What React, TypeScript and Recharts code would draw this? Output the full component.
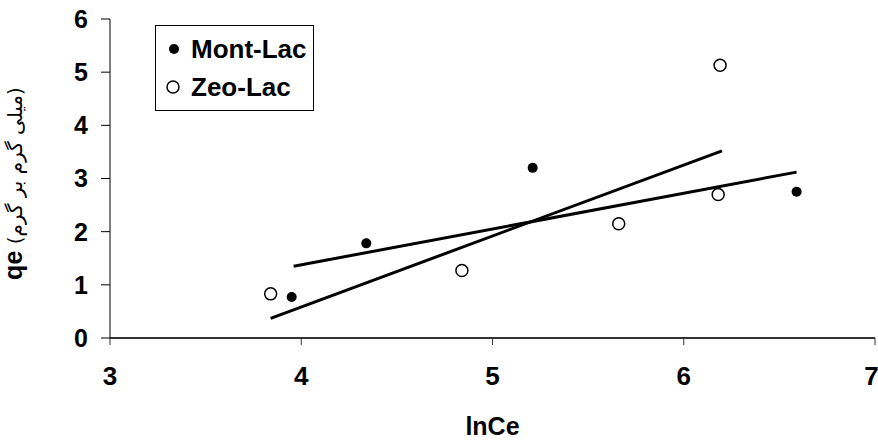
import { Scatter, ScatterChart, XAxis, YAxis } from 'recharts';

const montX = [3.95, 4.34, 5.21, 6.59];
const montY = [0.77, 1.78, 3.2, 2.75];
const zeoX = [3.84, 4.84, 5.66, 6.18, 6.19];
const zeoY = [0.83, 1.27, 2.15, 2.7, 5.13];
// trend line end points
const montFitX = [3.96, 6.59];
const montFitY = [1.35, 3.12];
const zeoFitX = [3.84, 6.2];
const zeoFitY = [0.37, 3.52];

const xTicks = [3, 4, 5, 6, 7];
const yTicks = [0, 1, 2, 3, 4, 5, 6];
const seriesNames = ['Mont-Lac', 'Zeo-Lac'];

const toPoints = (xs: number[], ys: number[]) => xs.map((x, i) => ({ x, y: ys[i] }));

const font = '"Liberation Sans", Arial, sans-serif';

const FilledDot = (p: any) => <circle cx={p.cx} cy={p.cy} r={5} fill="#000" />;
const OpenDot = (p: any) => <circle cx={p.cx} cy={p.cy} r={6} fill="#fff" stroke="#000" strokeWidth={1.5} />;
const NoDot = () => <g />;

const LegendBox = () => (
  <div
    style={{
      position: 'absolute',
      left: 155,
      top: 25,
      width: 159,
      height: 86,
      boxSizing: 'border-box',
      border: '1.5px solid #000',
      background: '#fff',
      fontFamily: font,
      fontWeight: 700,
      fontSize: 26,
      color: '#000',
      paddingTop: 7,
    }}
  >
    <div style={{ display: 'flex', alignItems: 'center', height: 32 }}>
      <svg width={35} height={20}>
        <circle cx={18} cy={10} r={5} fill="#000" />
      </svg>
      <span>{seriesNames[0]}</span>
    </div>
    <div style={{ display: 'flex', alignItems: 'center', height: 36, marginTop: 4 }}>
      <svg width={35} height={20}>
        <circle cx={17} cy={10} r={6} fill="#fff" stroke="#000" strokeWidth={1.5} />
      </svg>
      <span>{seriesNames[1]}</span>
    </div>
  </div>
);

const YTitle = (p: any) => {
  const vb = p.viewBox;
  const cx = vb.x + 22;
  const cy = vb.y + vb.height / 2 + 5;
  return (
    <text x={cx} y={cy} transform={`rotate(-90 ${cx} ${cy})`} textAnchor="middle" fill="#000">
      <tspan fontFamily={font} fontWeight={700} fontSize={25}>qe</tspan>
      <tspan fontFamily='"DejaVu Sans", sans-serif' fontSize={20}> (میلی گرم بر گرم)</tspan>
    </text>
  );
};

export default function App() {
  return (
    <div style={{ position: 'absolute', left: 0, top: 0, width: 878, height: 443, background: '#fff' }}>
      <ScatterChart width={878} height={443} margin={{ top: 19, right: 3, left: 0, bottom: 0 }}>
        <XAxis
          type="number"
          dataKey="x"
          domain={[3, 7]}
          ticks={xTicks}
          height={105}
          tickSize={7}
          tickMargin={22}
          stroke="#333"
          axisLine={{ stroke: '#333', strokeWidth: 2 }}
          tick={{ fill: '#000', fontSize: 26, fontWeight: 700, fontFamily: font }}
          label={{ value: 'lnCe', position: 'insideBottom', offset: 8, fill: '#000', fontSize: 25, fontWeight: 700, fontFamily: font }}
        />
        <YAxis
          type="number"
          dataKey="y"
          domain={[0, 6]}
          ticks={yTicks}
          width={110}
          tickSize={9}
          tickMargin={13}
          stroke="#000"
          tick={{ fill: '#000', fontSize: 25, fontWeight: 700, fontFamily: font }}
          label={{ content: YTitle }}
        />
        <Scatter
          name="montFit"
          data={toPoints(montFitX, montFitY)}
          line={{ stroke: '#000', strokeWidth: 3 }}
          shape={NoDot}
          legendType="none"
          isAnimationActive={false}
        />
        <Scatter
          name="zeoFit"
          data={toPoints(zeoFitX, zeoFitY)}
          line={{ stroke: '#000', strokeWidth: 3 }}
          shape={NoDot}
          legendType="none"
          isAnimationActive={false}
        />
        <Scatter name={seriesNames[0]} data={toPoints(montX, montY)} shape={FilledDot} isAnimationActive={false} />
        <Scatter name={seriesNames[1]} data={toPoints(zeoX, zeoY)} shape={OpenDot} isAnimationActive={false} />
      </ScatterChart>
      <LegendBox />
    </div>
  );
}
